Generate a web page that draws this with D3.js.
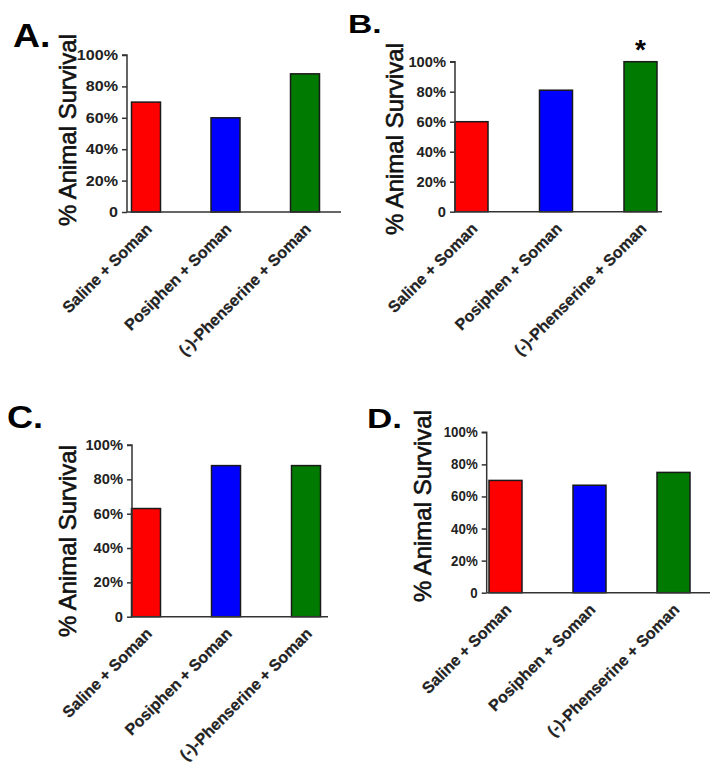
<!DOCTYPE html>
<html>
<head>
<meta charset="utf-8">
<script src="https://cdn.jsdelivr.net/npm/d3@7"></script>
<style>
  html, body { margin: 0; padding: 0; background: #fff; }
  svg { display: block; font-family: "Liberation Sans", Arial, sans-serif; }
</style>
</head>
<body>
<svg id="chart" width="717" height="773"></svg>
<script>
// ---- data ----
const categories = ["Saline + Soman", "Posiphen + Soman", "(-)-Phenserine + Soman"];
const panelLabels = ["A.", "B.", "C.", "D."];
const survivalA = [70, 60, 88];
const survivalB = [60, 81, 100];
const survivalC = [63, 88, 88];
const survivalD = [70, 67, 75];
const markersB = ["", "", "*"];
const yTickValues = [0, 20, 40, 60, 80, 100];
const yTickLabels = ["0", "20%", "40%", "60%", "80%", "100%"];
const barColors = ["#ff0000", "#0000ff", "#007a00"];
const yTitle = "% Animal Survival";

// ---- layout (pixel geometry per panel) ----
const layout = [
  { left: 127, top: 55, bottom: 212, right: 341, c0: 146, c2: 305, bw: 29,
    titleX: 68, titleY: 130, lx: 13, ly: 47, lfs: 34, lsx: 1.1, tsx: 1.15 },
  { left: 455, top: 61.7, bottom: 211.7, right: 662, c0: 471.5, c2: 640.5, bw: 33,
    titleX: 395, titleY: 139, lx: 348, ly: 33, lfs: 25, lsx: 1.35, tsx: 1.05 },
  { left: 132, top: 445, bottom: 616.7, right: 328, c0: 146, c2: 306, bw: 29,
    titleX: 68, titleY: 541, lx: 7, ly: 428, lfs: 32, lsx: 1.13, tsx: 1.05 },
  { left: 486.7, top: 432.3, bottom: 592.7, right: 710, c0: 505.5, c2: 673.5, bw: 33,
    titleX: 423, titleY: 506, lx: 367, ly: 428, lfs: 28, lsx: 1.25, tsx: 0.95 }
];
const panelValues = [survivalA, survivalB, survivalC, survivalD];
const panelMarkers = [null, markersB, null, null];

const svg = d3.select("#chart");

panelValues.forEach((vals, i) => {
  const L = layout[i];
  const g = svg.append("g");

  const x = d3.scalePoint().domain(categories).range([L.c0, L.c2]);
  const y = d3.scaleLinear().domain([0, 100]).range([L.bottom, L.top]);

  // bars
  g.selectAll("rect.bar").data(vals).join("rect")
    .attr("class", "bar")
    .attr("x", (d, j) => x(categories[j]) - L.bw / 2)
    .attr("y", d => y(d))
    .attr("width", L.bw)
    .attr("height", d => y(0) - y(d))
    .attr("fill", (d, j) => barColors[j])
    .attr("stroke", "#1a1a1a")
    .attr("stroke-width", 1.5);

  // y axis
  const yAxis = d3.axisLeft(y).tickValues(yTickValues)
    .tickFormat((d, k) => yTickLabels[k]).tickSize(5).tickPadding(4);
  const ya = g.append("g").attr("transform", `translate(${L.left},0)`).call(yAxis);
  ya.select(".domain").attr("stroke", "#333").attr("stroke-width", 1.5)
    .attr("d", `M-5,${L.top}H0V${L.bottom}`);
  ya.selectAll(".tick line").attr("stroke", "#333").attr("stroke-width", 1.5);
  ya.selectAll(".tick text")
    .attr("font-size", 14).attr("font-weight", "bold").attr("fill", "#222")
    .attr("font-family", "Liberation Sans, Arial, sans-serif")
    .attr("transform", `scale(${L.tsx},1)`)
    .attr("x", -9 / L.tsx);

  // x axis line
  g.append("line")
    .attr("x1", L.left).attr("x2", L.right)
    .attr("y1", L.bottom).attr("y2", L.bottom)
    .attr("stroke", "#333").attr("stroke-width", 1.5);

  // x labels (rotated)
  g.selectAll("text.xl").data(categories).join("text")
    .attr("class", "xl")
    .attr("transform", d => `translate(${x(d) + 7},${L.bottom + 18}) rotate(-45)`)
    .attr("text-anchor", "end")
    .attr("font-size", 16).attr("font-weight", "bold").attr("fill", "#222")
    .attr("stroke", "#222").attr("stroke-width", 0.25)
    .text(d => d);

  // y title
  g.append("text")
    .attr("transform", `translate(${L.titleX},${L.titleY}) rotate(-90)`)
    .attr("text-anchor", "middle")
    .attr("dy", "0.35em")
    .attr("font-size", 24).attr("fill", "#111")
    .attr("stroke", "#111").attr("stroke-width", 0.6)
    .text(yTitle);

  // panel label
  g.append("text")
    .attr("transform", `translate(${L.lx},${L.ly}) scale(${L.lsx},1)`)
    .attr("font-size", L.lfs).attr("font-weight", "bold").attr("fill", "#000")
    .text(panelLabels[i]);

  // significance markers
  if (panelMarkers[i]) {
    g.selectAll("text.mk").data(panelMarkers[i]).join("text")
      .attr("class", "mk")
      .attr("x", (d, j) => x(categories[j]))
      .attr("y", (d, j) => y(vals[j]) - 3)
      .attr("text-anchor", "middle")
      .attr("font-size", 28).attr("font-weight", "bold").attr("fill", "#000")
      .text(d => d);
  }
});
</script>
</body>
</html>
